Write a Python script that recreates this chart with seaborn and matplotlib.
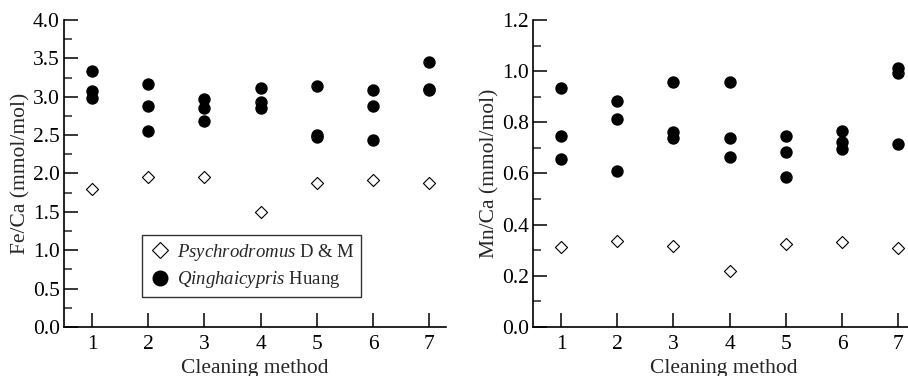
import matplotlib
matplotlib.use("Agg")
import matplotlib.pyplot as plt
from matplotlib.ticker import MultipleLocator
from matplotlib.lines import Line2D
import numpy as np
import pandas as pd
import seaborn as sns

# ---- data ----
methods = [1, 2, 3, 4, 5, 6, 7]
fe_qinghai = [[3.34, 3.08, 2.98], [3.17, 2.88, 2.55], [2.97, 2.85, 2.68],
              [3.12, 2.93, 2.85], [3.14, 2.50, 2.48], [3.09, 2.88, 2.43],
              [3.45, 3.10, 3.09]]
fe_psychro = [1.80, 1.95, 1.96, 1.50, 1.88, 1.91, 1.88]
mn_qinghai = [[0.933, 0.748, 0.655], [0.884, 0.812, 0.610], [0.958, 0.763, 0.738],
              [0.957, 0.739, 0.666], [0.745, 0.685, 0.587], [0.767, 0.725, 0.696],
              [1.014, 0.992, 0.715]]
mn_psychro = [0.314, 0.338, 0.316, 0.220, 0.325, 0.332, 0.307]

label_psychro = r"$\mathit{Psychrodromus}$ D & M"
label_qinghai = r"$\mathit{Qinghaicypris}$ Huang"

sns.set_theme(style="ticks")
plt.rcParams["font.family"] = ["Liberation Serif", "DejaVu Serif"]
plt.rcParams["mathtext.fontset"] = "custom"
plt.rcParams["mathtext.rm"] = "Liberation Serif"
plt.rcParams["mathtext.it"] = "Liberation Serif:italic"

def long_q(vals):
    xs, ys = [], []
    for m, v in zip(methods, vals):
        for y in v:
            xs.append(m)
            ys.append(y)
    return pd.DataFrame({"method": xs, "value": ys})

fig = plt.figure(figsize=(9.08, 3.76), dpi=100)
W = 0.4207
axL = fig.add_axes([64 / 908, 1 - 327 / 376, W, 307 / 376])
axR = fig.add_axes([533 / 908, 1 - 327 / 376, W, 307 / 376])

FS = 15.5

def draw(ax, qvals, pvals, ymax, major, minor, ylabel):
    dq = long_q(qvals)
    dp = pd.DataFrame({"method": methods, "value": pvals})
    sns.scatterplot(data=dq, x="method", y="value", ax=ax, marker="o", s=80,
                    color="black", edgecolor="black", linewidth=0, zorder=3)
    sns.scatterplot(data=dp, x="method", y="value", ax=ax, marker="D", s=38,
                    facecolor="white", edgecolor="black", linewidth=0.8, zorder=3)
    ax.set_xlim(0.5, 7.3)
    ax.set_ylim(0, ymax)
    ax.set_xticks(methods)
    ax.yaxis.set_major_locator(MultipleLocator(major))
    ax.yaxis.set_minor_locator(MultipleLocator(minor))
    ax.yaxis.set_major_formatter(matplotlib.ticker.FormatStrFormatter("%.1f"))
    ax.tick_params(axis="both", which="major", direction="in", length=10,
                   width=1.1, labelsize=FS, color="black", labelcolor="black", pad=3)
    ax.tick_params(axis="y", which="minor", direction="in", length=6, width=1.1)
    ax.tick_params(axis="x", which="major", pad=6)
    for s in ["top", "right"]:
        ax.spines[s].set_visible(False)
    for s in ["left", "bottom"]:
        ax.spines[s].set_linewidth(1.2)
        ax.spines[s].set_color("black")
    ax.set_xlabel("Cleaning method", fontsize=FS, labelpad=3)
    ax.set_ylabel(ylabel, fontsize=FS, labelpad=2)
    ax.set_facecolor("white")

draw(axL, fe_qinghai, fe_psychro, 4.0, 0.5, 0.25, "Fe/Ca (mmol/mol)")
draw(axR, mn_qinghai, mn_psychro, 1.2, 0.2, 0.1, "Mn/Ca (mmol/mol)")

handles = [
    Line2D([], [], marker="D", linestyle="none", markersize=8,
           markerfacecolor="white", markeredgecolor="black", markeredgewidth=0.8),
    Line2D([], [], marker="o", linestyle="none", markersize=10.5,
           markerfacecolor="black", markeredgecolor="black"),
]
leg = axL.legend(handles, [label_psychro, label_qinghai], loc="lower left",
                 bbox_to_anchor=(0.204, 0.098), borderaxespad=0, fontsize=13.5,
                 frameon=True, fancybox=False, handletextpad=0.3,
                 handlelength=1.2, borderpad=0.35, labelspacing=0.35)
leg.get_frame().set_edgecolor("black")
leg.get_frame().set_linewidth(1.0)

fig.savefig("out.png", dpi=100, facecolor="white")
